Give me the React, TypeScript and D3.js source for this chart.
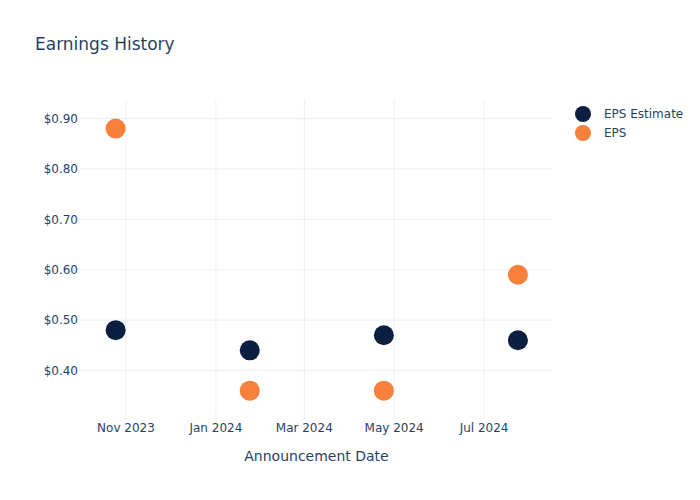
import React from "react";
import * as d3 from "d3";

const dates = ["2023-10-25", "2024-01-24", "2024-04-24", "2024-07-24"];
const epsEstimate = [0.48, 0.44, 0.47, 0.46];
const eps = [0.88, 0.36, 0.36, 0.59];
const yTicks = [0.4, 0.5, 0.6, 0.7, 0.8, 0.9];
const xTicks = ["2023-11-01", "2024-01-01", "2024-03-01", "2024-05-01", "2024-07-01"];
const seriesNames = ["EPS Estimate", "EPS"];
const colors = ["#0b1f41", "#f7803a"];

const W = 700, H = 500;
const L = 80, R = 553, T = 100, B = 420;
const FONT = "'DejaVu Sans', verdana, arial, sans-serif";
const TXT = "#2a3f5f";

export default function App() {
  const parse = d3.utcParse("%Y-%m-%d");
  const x = d3.scaleUtc()
    .domain([new Date(Date.UTC(2023, 8, 30, 19)), new Date(Date.UTC(2024, 7, 16, 19))])
    .range([L, R]);
  const y = d3.scaleLinear().domain([0.3018, 0.9367]).range([B, T]);
  const fmtX = d3.utcFormat("%b %Y");
  const fmtY = (v: number) => "$" + v.toFixed(2);
  const series = [epsEstimate, eps];

  return (
    <svg width={W} height={H} style={{ position: "absolute", left: 0, top: 0, background: "#fff" }} fontFamily={FONT}>
      {xTicks.map((t) => (
        <g key={t}>
          <line x1={x(parse(t)!)} x2={x(parse(t)!)} y1={T} y2={B} stroke="#ebf0f8" strokeWidth={1} />
          <text x={x(parse(t)!)} y={428} textAnchor="middle" fontSize={12} fill={TXT} dy="0.35em">{fmtX(parse(t)!)}</text>
        </g>
      ))}
      {yTicks.map((t) => (
        <g key={t}>
          <line x1={L} x2={R} y1={y(t)} y2={y(t)} stroke="#ebf0f8" strokeWidth={1} />
          <text x={L - 2} y={y(t)} textAnchor="end" fontSize={12} fill={TXT} dy="0.35em">{fmtY(t)}</text>
        </g>
      ))}
      {series.map((s, si) =>
        s.map((v, i) => (
          <circle key={si + "-" + i} cx={x(parse(dates[i])!)} cy={y(v)} r={10} fill={colors[si]} />
        ))
      )}
      <text x={35} y={50} fontSize={17} fill={TXT}>Earnings History</text>
      <text x={(L + R) / 2} y={461} textAnchor="middle" fontSize={14} fill={TXT}>Announcement Date</text>
      {seriesNames.map((n, i) => (
        <g key={n} transform={`translate(583, ${114 + i * 19})`}>
          <circle cx={0} cy={0} r={8} fill={colors[i]} />
          <text x={21} y={0} dy="0.35em" fontSize={12} fill={TXT}>{n}</text>
        </g>
      ))}
    </svg>
  );
}
